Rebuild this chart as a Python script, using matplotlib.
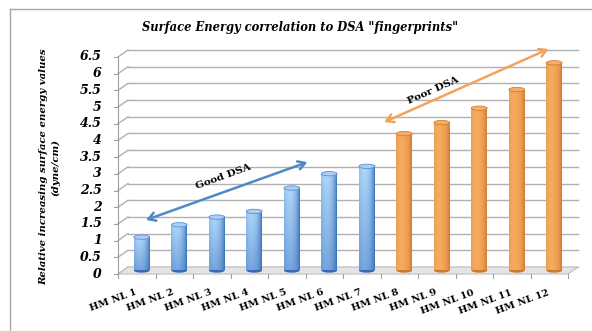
import matplotlib.pyplot as plt
import matplotlib.transforms as mtransforms
import numpy as np
from matplotlib.patches import Ellipse, Polygon

labels = ['HM NL 1', 'HM NL 2', 'HM NL 3', 'HM NL 4', 'HM NL 5', 'HM NL 6',
          'HM NL 7', 'HM NL 8', 'HM NL 9', 'HM NL 10', 'HM NL 11', 'HM NL 12']
values = [1.0, 1.37, 1.6, 1.77, 2.47, 2.9, 3.12, 4.1, 4.43, 4.86, 5.42, 6.22]
groups = ['good'] * 7 + ['poor'] * 5
yticks = np.arange(0, 6.51, 0.5)

serif = 'DejaVu Serif'
fig = plt.figure(figsize=(5.92, 3.31), dpi=100)
fig.patch.set_facecolor('white')

# chart frame (only the top and left edges fall inside the image)
fig.add_artist(plt.Line2D([10/592, 10/592], [0, 1 - 9/331], color='#a6a6a6', lw=1))
fig.add_artist(plt.Line2D([10/592, 1], [1 - 9/331, 1 - 9/331], color='#a6a6a6', lw=1))

ax = fig.add_axes([118/592, 1 - 274/331, 450/592, 217/331])
ax.axis('off')
x0, x1 = -0.5, len(labels) - 0.5
ax.set_xlim(x0, x1)
ax.set_ylim(0, 6.5)

# depth offset of the back wall, in pixels
dx, dy = 10, 7
back = mtransforms.offset_copy(ax.transData, fig, x=dx, y=dy, units='dots')
mid = mtransforms.offset_copy(ax.transData, fig, x=dx / 2, y=dy / 2, units='dots')

# floor
px = ax.transData.transform([(x0, 0), (x1, 0)])
pts = [px[0], px[1], px[1] + [dx, dy], px[0] + [dx, dy]]
pts = ax.transData.inverted().transform(pts)
ax.add_patch(Polygon(pts, closed=True, facecolor='#e4e4e4', edgecolor='#bfbfbf',
                     lw=0.8, clip_on=False, zorder=1))

# back-wall gridlines, left side-wall diagonals and y tick labels
for t in yticks:
    ax.plot([x0, x1], [t, t], color='#b0b0b0', lw=1, transform=back,
            clip_on=False, zorder=0)
    p = ax.transData.transform([(x0, t)])[0]
    q = ax.transData.inverted().transform([p, p + [dx, dy]])
    ax.plot(q[:, 0], q[:, 1], color='#b0b0b0', lw=1, clip_on=False, zorder=0)
    ax.text(-0.93, t, f'{t:g}', ha='right', va='center', fontsize=9,
            family=serif, weight='bold', style='italic')
    ax.plot([x0 - 0.12, x0], [t, t], color='#a0a0a0', lw=0.8, clip_on=False)

ax.plot([x0, x0], [0, 6.5], color='#a0a0a0', lw=0.8, clip_on=False)
for i in range(len(labels) + 1):
    ax.plot([i - 0.5, i - 0.5], [0, -0.12], color='#a0a0a0', lw=0.8, clip_on=False)

# cylinders
w = 0.42
cap = 0.13
cmaps = {
    'good': (np.array([0.20, 0.42, 0.72]), np.array([0.68, 0.84, 0.98]),
             '#a9cff7', '#5a90d0'),
    'poor': (np.array([0.80, 0.47, 0.16]), np.array([0.99, 0.70, 0.40]),
             '#f6ad66', '#d07f33'),
}
n = 64
u = np.linspace(-1, 1, n)
shade = np.clip(1 - ((u + 0.3) / 1.3) ** 2, 0, 1) ** 0.7
for i, (v, g) in enumerate(zip(values, groups)):
    dark, light, top, edge = cmaps[g]
    rows = 40
    if g == 'good':
        vert = np.linspace(1, 0.55, rows)[:, None]
    else:
        vert = np.ones((rows, 1)) * 0.85
    mix = shade[None, :] * vert
    img = dark[None, None, :] + (light - dark)[None, None, :] * mix[:, :, None]
    ax.imshow(img, extent=(i - w / 2, i + w / 2, 0, v), aspect='auto',
              transform=mid, zorder=3, interpolation='bilinear')
    ax.add_patch(Ellipse((i, 0), w, cap, transform=mid, facecolor=dark,
                         edgecolor='none', zorder=2.9))
    ax.add_patch(Ellipse((i, v), w, cap, transform=mid, facecolor=top,
                         edgecolor=edge, lw=0.6, zorder=4))

ax.set_xlim(x0, x1)
ax.set_ylim(0, 6.5)

for i, lab in enumerate(labels):
    ax.text(i - 0.05, -0.42, lab, rotation=20, rotation_mode='anchor',
            ha='right', va='top', fontsize=7, family=serif, weight='bold')

# annotation arrows
ax.annotate('', xy=(0.25, 1.62), xytext=(4.55, 3.35),
            arrowprops=dict(arrowstyle='<->,head_length=0.5,head_width=0.3',
                            color='#4f88c6', lw=1.8, shrinkA=0, shrinkB=0),
            annotation_clip=False, zorder=5)
ax.text(2.3, 2.9, 'Good DSA', rotation=20, ha='center', va='center',
        fontsize=7.5, family=serif, weight='bold', zorder=5)
ax.annotate('', xy=(6.6, 4.55), xytext=(10.98, 6.74),
            arrowprops=dict(arrowstyle='<->,head_length=0.5,head_width=0.3',
                            color='#f5a35a', lw=1.8, shrinkA=0, shrinkB=0),
            annotation_clip=False, zorder=5)
ax.text(7.9, 5.5, 'Poor DSA', rotation=24, ha='center', va='center',
        fontsize=7.5, family=serif, weight='bold', zorder=5)

fig.text(0.507, 1 - 27/331, 'Surface Energy correlation to DSA "fingerprints"',
         ha='center', va='center', fontsize=8.3, family=serif,
         weight='bold', style='italic')
fig.text(50/592, 1 - 167/331, 'Relative increasing surface energy values\n(dyne/cm)',
         rotation=90, ha='center', va='center', fontsize=7.3, family=serif,
         weight='bold', style='italic', linespacing=1.5)

fig.savefig('out.png', dpi=100)
